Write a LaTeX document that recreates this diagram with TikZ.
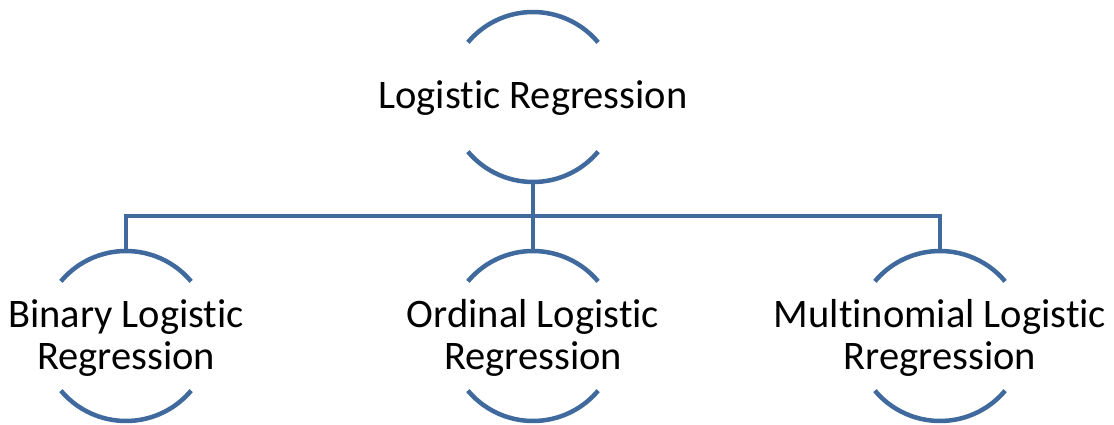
\documentclass[tikz,border=0pt]{standalone}
\usepackage{fontspec}
\setmainfont[Ligatures=NoCommon]{Carlito}
\definecolor{ringblue}{RGB}{64,106,158}
\tikzset{
  ring/.style={circle, draw=none, minimum size=170pt, inner sep=0pt, outer sep=0pt},
  label/.style={font=\fontsize{40.5}{42}\selectfont, align=center, text=black},
  wire/.style={draw=ringblue, line width=4.5pt},
}
\begin{document}
\begin{tikzpicture}[x=1pt, y=1pt]
  \useasboundingbox (0,0) rectangle (1114,424);
  % ring outlines (invisible circles carrying the anchors)
  \node[ring] (topring) at (533,327) {};
  \node[ring] (binring) at (126,88) {};
  \node[ring] (ordring) at (533,88) {};
  \node[ring] (mulring) at (940,88) {};
  % labels
  \node[label] (top) at (533,326) {Logistic Regression};
  \node[label] (binary) at (126,86) {Binary Logistic\\Regression};
  \node[label] (ordinal) at (533,86) {Ordinal Logistic\\Regression};
  \node[label] (multi) at (940,86) {Multinomial Logistic\\Rregression};
  % upper and lower arcs of each ring
  \foreach \r in {topring, binring, ordring, mulring} {
    \draw[wire] (\r.40) arc[start angle=40, end angle=140, radius=85pt];
    \draw[wire] (\r.220) arc[start angle=220, end angle=320, radius=85pt];
  }
  % tree connectors
  \coordinate (bus) at (533,208);
  \draw[wire] (topring.south) -- (bus);
  \draw[wire] (binring.north) |- (bus) -| (mulring.north);
  \draw[wire] (ordring.north) -- (bus);
\end{tikzpicture}
\end{document}
